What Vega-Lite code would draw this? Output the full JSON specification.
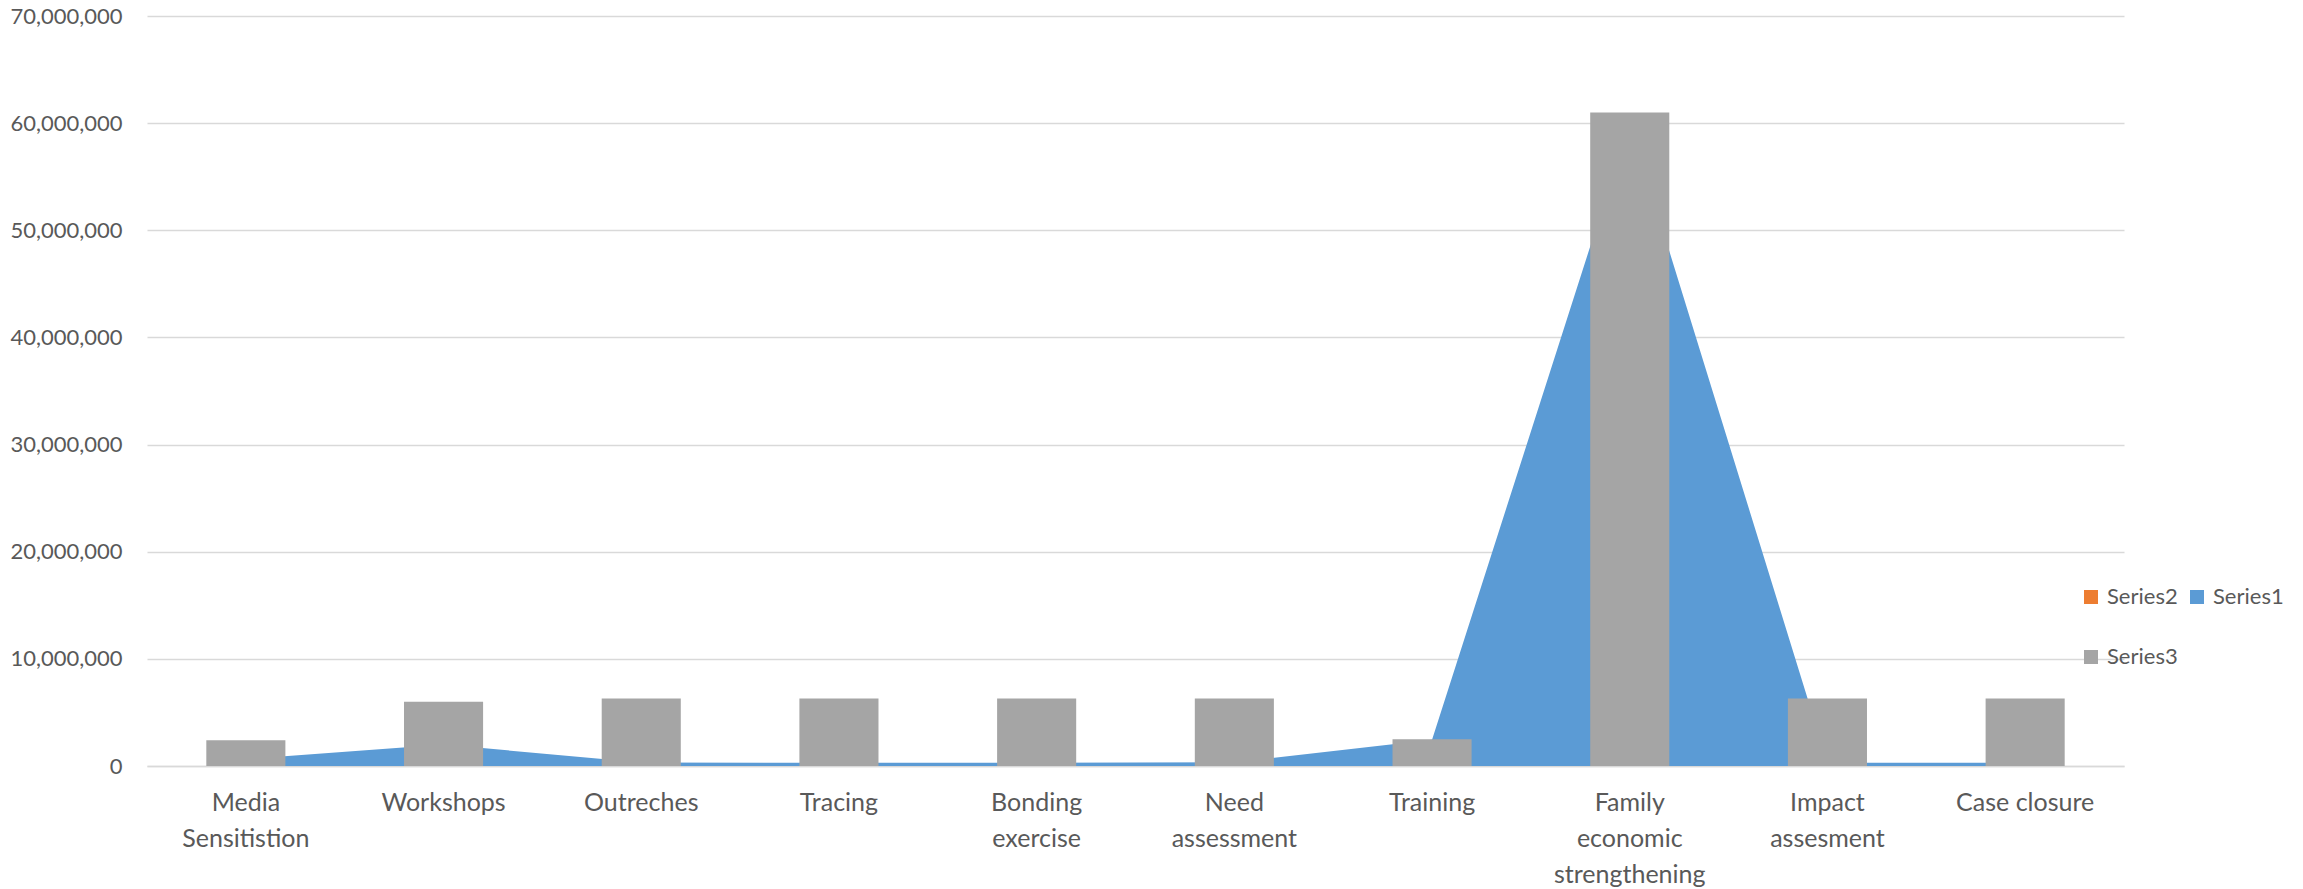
{
  "$schema": "https://vega.github.io/schema/vega-lite/v6.json",
  "autosize": {"type": "none"},
  "width": 1977,
  "height": 750,
  "padding": {"left": 147, "top": 16, "right": 179, "bottom": 123},
  "background": "#ffffff",
  "config": {
    "font": "Lato",
    "view": {"stroke": null},
    "axis": {"labelColor": "#595959", "labelFont": "Lato"},
    "legend": {"labelColor": "#595959", "labelFont": "Lato"}
  },
  "data": {
    "values": [
      {"category": "Media Sensitistion", "series": "Series1", "value": 650000},
      {"category": "Workshops", "series": "Series1", "value": 2000000},
      {"category": "Outreches", "series": "Series1", "value": 330000},
      {"category": "Tracing", "series": "Series1", "value": 300000},
      {"category": "Bonding exercise", "series": "Series1", "value": 300000},
      {"category": "Need assessment", "series": "Series1", "value": 350000},
      {"category": "Training", "series": "Series1", "value": 2450000},
      {"category": "Family economic strengthening", "series": "Series1", "value": 60000000},
      {"category": "Impact assesment", "series": "Series1", "value": 300000},
      {"category": "Case closure", "series": "Series1", "value": 300000},
      {"category": "Media Sensitistion", "series": "Series2", "value": 0},
      {"category": "Workshops", "series": "Series2", "value": 0},
      {"category": "Outreches", "series": "Series2", "value": 0},
      {"category": "Tracing", "series": "Series2", "value": 0},
      {"category": "Bonding exercise", "series": "Series2", "value": 0},
      {"category": "Need assessment", "series": "Series2", "value": 0},
      {"category": "Training", "series": "Series2", "value": 0},
      {"category": "Family economic strengthening", "series": "Series2", "value": 0},
      {"category": "Impact assesment", "series": "Series2", "value": 0},
      {"category": "Case closure", "series": "Series2", "value": 0},
      {"category": "Media Sensitistion", "series": "Series3", "value": 2400000},
      {"category": "Workshops", "series": "Series3", "value": 6000000},
      {"category": "Outreches", "series": "Series3", "value": 6300000},
      {"category": "Tracing", "series": "Series3", "value": 6300000},
      {"category": "Bonding exercise", "series": "Series3", "value": 6300000},
      {"category": "Need assessment", "series": "Series3", "value": 6300000},
      {"category": "Training", "series": "Series3", "value": 2500000},
      {"category": "Family economic strengthening", "series": "Series3", "value": 61000000},
      {"category": "Impact assesment", "series": "Series3", "value": 6300000},
      {"category": "Case closure", "series": "Series3", "value": 6300000}
    ]
  },
  "encoding": {
    "x": {
      "field": "category",
      "type": "nominal",
      "sort": null,
      "scale": {"paddingInner": 0, "paddingOuter": 0},
      "axis": {
        "title": null,
        "labelAngle": 0,
        "ticks": false,
        "domainColor": "#d9d9d9",
        "domainWidth": 1.5,
        "labelFontSize": 25,
        "labelPadding": 24,
        "labelLineHeight": 36,
        "labelBaseline": "top",
        "labelExpr": "datum.label == 'Case closure' ? datum.label : split(datum.label, ' ')"
      }
    },
    "y": {
      "field": "value",
      "type": "quantitative",
      "scale": {"domain": [0, 70000000]},
      "axis": {
        "title": null,
        "values": [0, 10000000, 20000000, 30000000, 40000000, 50000000, 60000000, 70000000],
        "format": ",.0f",
        "ticks": false,
        "domain": false,
        "labelFontSize": 22,
        "labelPadding": 25,
        "gridColor": "#d9d9d9",
        "gridWidth": 1.5
      }
    },
    "color": {
      "field": "series",
      "type": "nominal",
      "scale": {
        "domain": ["Series2", "Series3", "Series1"],
        "range": ["#ED7D31", "#A5A5A5", "#5B9BD5"]
      },
      "legend": {
        "title": null,
        "orient": "none",
        "legendX": 1933,
        "legendY": 570,
        "columns": 2,
        "padding": 0,
        "symbolType": "square",
        "symbolSize": 196,
        "symbolStrokeWidth": 0,
        "labelFontSize": 22,
        "labelOffset": 5,
        "columnPadding": 8,
        "rowPadding": 38
      }
    }
  },
  "layer": [
    {
      "transform": [{"filter": "datum.series != 'Series3'"}],
      "mark": {"type": "area", "opacity": 1, "interpolate": "linear"},
      "encoding": {"y": {"field": "value", "type": "quantitative", "stack": null}}
    },
    {
      "transform": [{"filter": "datum.series == 'Series3'"}],
      "mark": {"type": "bar", "width": {"band": 0.4}}
    }
  ]
}
